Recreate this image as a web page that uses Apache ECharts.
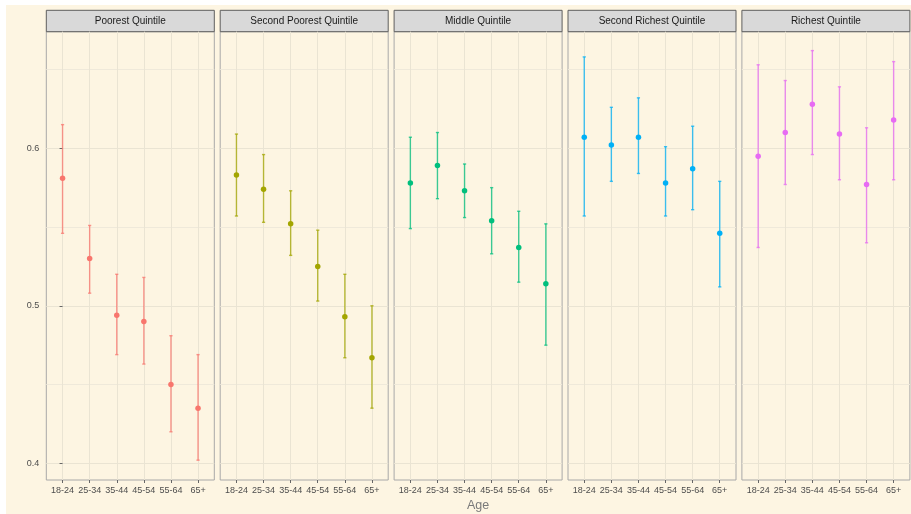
<!DOCTYPE html>
<html>
<head>
<meta charset="utf-8">
<script src="https://cdn.jsdelivr.net/npm/echarts@6/dist/echarts.min.js"></script>
<style>
  html, body { margin: 0; padding: 0; background: #ffffff; }
  #chart { position: absolute; left: 6px; top: 5px; width: 905px; height: 509px; }
</style>
</head>
<body>
<div id="chart"></div>
<script>
// ---- data ----
const ages = ['18-24', '25-34', '35-44', '45-54', '55-64', '65+'];
const quintiles = ['Poorest Quintile', 'Second Poorest Quintile', 'Middle Quintile', 'Second Richest Quintile', 'Richest Quintile'];
const quintileColors = ['#F8766D', '#A3A500', '#00BF7D', '#00B0F6', '#E76BF3'];

const poorestMean = [0.581, 0.530, 0.494, 0.490, 0.450, 0.435];
const poorestLow  = [0.546, 0.508, 0.469, 0.463, 0.420, 0.402];
const poorestHigh = [0.615, 0.551, 0.520, 0.518, 0.481, 0.469];

const secondPoorestMean = [0.583, 0.574, 0.552, 0.525, 0.493, 0.467];
const secondPoorestLow  = [0.557, 0.553, 0.532, 0.503, 0.467, 0.435];
const secondPoorestHigh = [0.609, 0.596, 0.573, 0.548, 0.520, 0.500];

const middleMean = [0.578, 0.589, 0.573, 0.554, 0.537, 0.514];
const middleLow  = [0.549, 0.568, 0.556, 0.533, 0.515, 0.475];
const middleHigh = [0.607, 0.610, 0.590, 0.575, 0.560, 0.552];

const secondRichestMean = [0.607, 0.602, 0.607, 0.578, 0.587, 0.546];
const secondRichestLow  = [0.557, 0.579, 0.584, 0.557, 0.561, 0.512];
const secondRichestHigh = [0.658, 0.626, 0.632, 0.601, 0.614, 0.579];

const richestMean = [0.595, 0.610, 0.628, 0.609, 0.577, 0.618];
const richestLow  = [0.537, 0.577, 0.596, 0.580, 0.540, 0.580];
const richestHigh = [0.653, 0.643, 0.662, 0.639, 0.613, 0.655];

const yMajorTicks = [0.4, 0.5, 0.6];
const yMinorTicks = [0.45, 0.55, 0.65];
const xAxisTitle = 'Age';

const meanSets = [poorestMean, secondPoorestMean, middleMean, secondRichestMean, richestMean];
const lowSets  = [poorestLow, secondPoorestLow, middleLow, secondRichestLow, richestLow];
const highSets = [poorestHigh, secondPoorestHigh, middleHigh, secondRichestHigh, richestHigh];

// ---- layout ----
const PANEL_LEFT0 = 40.3, PANEL_PITCH = 173.9, PANEL_W = 168;
const PANEL_TOP = 26.7, PANEL_BOTTOM = 34;
const STRIP_TOP = 5.3, STRIP_H = 21.4;
const Y_MIN = 0.3894, Y_MAX = 0.674;
const X_MIN = -0.6, X_MAX = ages.length - 1 + 0.6;
const FONT = '"Liberation Sans", Arial, sans-serif';

const chart = echarts.init(document.getElementById('chart'), null, { renderer: 'canvas' });

const grids = [], xAxes = [], yAxes = [], series = [], graphics = [];
const idx = ages.map((_, i) => i);

quintiles.forEach((q, p) => {
  const left = PANEL_LEFT0 + p * PANEL_PITCH;
  grids.push({
    left: left, width: PANEL_W, top: PANEL_TOP, bottom: PANEL_BOTTOM,
    show: true, borderColor: '#A8A8A8', borderWidth: 1, backgroundColor: 'transparent',
    containLabel: false
  });
  xAxes.push({
    type: 'value', gridIndex: p, min: X_MIN, max: X_MAX,
    axisLine: { show: false },
    axisTick: { show: true, length: 3, lineStyle: { color: '#666666' }, customValues: idx },
    axisLabel: {
      customValues: idx, margin: 6, color: '#4D4D4D', fontSize: 9, fontFamily: FONT,
      formatter: v => ages[Math.round(v)]
    },
    splitLine: { show: true, lineStyle: { color: '#EAE4D3', width: 1 } }
  });
  // major y axis
  yAxes.push({
    type: 'value', gridIndex: p, min: Y_MIN, max: Y_MAX,
    axisLine: { show: false },
    axisTick: { show: p === 0, length: 3, lineStyle: { color: '#666666' }, customValues: yMajorTicks },
    axisLabel: {
      show: p === 0, customValues: yMajorTicks, margin: 7, color: '#4D4D4D', fontSize: 9, fontFamily: FONT,
      formatter: v => String(Math.round(v * 10) / 10)
    },
    splitLine: { show: true, lineStyle: { color: '#EAE4D3', width: 1 } }
  });
  // minor grid y axis
  yAxes.push({
    type: 'value', gridIndex: p, min: Y_MIN, max: Y_MAX, position: 'left',
    axisLine: { show: false },
    axisTick: { show: false, customValues: yMinorTicks },
    axisLabel: { show: false, customValues: yMinorTicks },
    splitLine: { show: true, lineStyle: { color: '#EFE9DA', width: 1 } }
  });

  const color = quintileColors[p];
  const errData = idx.map(i => [i, lowSets[p][i], highSets[p][i]]);
  const ptData = idx.map(i => [i, meanSets[p][i]]);

  series.push({
    type: 'custom', xAxisIndex: p, yAxisIndex: p * 2, silent: true,
    encode: { x: 0, y: [1, 2] },
    data: errData,
    renderItem: (params, api) => {
      const x = api.value(0);
      const a = api.coord([x, api.value(1)]);
      const b = api.coord([x, api.value(2)]);
      const w = 1.6;
      const st = { stroke: color, lineWidth: 1.4, opacity: 0.75 };
      return {
        type: 'group',
        children: [
          { type: 'line', shape: { x1: a[0], y1: a[1], x2: b[0], y2: b[1] }, style: st },
          { type: 'line', shape: { x1: a[0] - w, y1: a[1], x2: a[0] + w, y2: a[1] }, style: st },
          { type: 'line', shape: { x1: b[0] - w, y1: b[1], x2: b[0] + w, y2: b[1] }, style: st }
        ]
      };
    },
    z: 2
  });
  series.push({
    type: 'scatter', xAxisIndex: p, yAxisIndex: p * 2, silent: true,
    data: ptData, symbol: 'circle', symbolSize: 5.5,
    itemStyle: { color: color, opacity: 1 },
    z: 3
  });

  // strip header
  graphics.push({
    type: 'rect', silent: true,
    shape: { x: left, y: STRIP_TOP, width: PANEL_W, height: STRIP_H },
    style: { fill: '#D9D9D9', stroke: '#5E5E5E', lineWidth: 1 }
  });
  graphics.push({
    type: 'text', silent: true,
    x: left + PANEL_W / 2, y: STRIP_TOP + STRIP_H / 2,
    style: { text: q, fill: '#1A1A1A', font: '10px ' + FONT, align: 'center', verticalAlign: 'middle' }
  });
});

graphics.push({
  type: 'text', silent: true,
  x: PANEL_LEFT0 + (4 * PANEL_PITCH + PANEL_W) / 2, y: 501,
  style: { text: xAxisTitle, fill: '#7A7A7A', font: '12.5px ' + FONT, align: 'center', verticalAlign: 'middle' }
});

chart.setOption({
  animation: false,
  backgroundColor: '#FDF5E2',
  grid: grids,
  xAxis: xAxes,
  yAxis: yAxes,
  series: series,
  graphic: graphics
});
</script>
</body>
</html>
